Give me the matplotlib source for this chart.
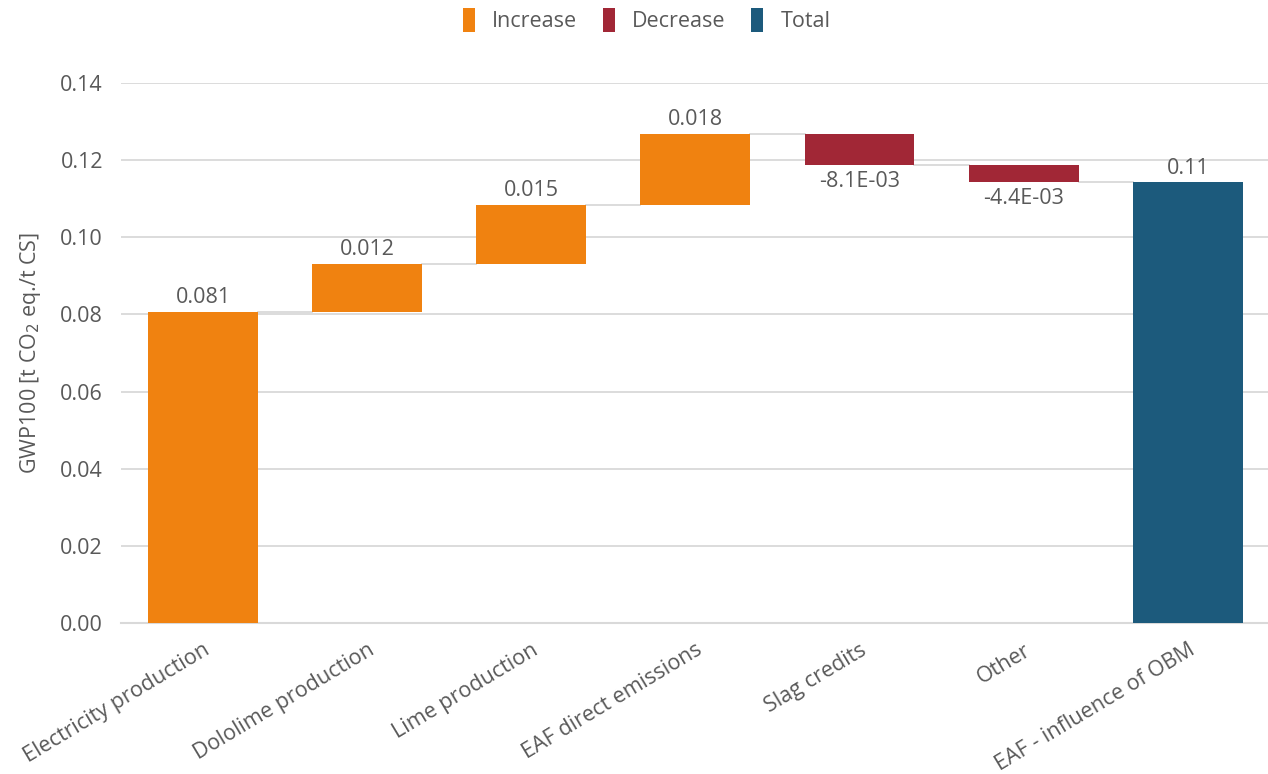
import matplotlib
matplotlib.use("Agg")
import matplotlib.pyplot as plt
from matplotlib.patches import Patch

plt.rcParams['font.family'] = ['Open Sans', 'DejaVu Sans']

categories = ["Electricity production", "Dololime production", "Lime production",
              "EAF direct emissions", "Slag credits", "Other",
              "EAF - influence of OBM"]
changes = [0.0806, 0.0124, 0.0153, 0.0184, -0.0081, -0.0044]
legend_labels = ["Increase", "Decrease", "Total"]
yticks = [0.00, 0.02, 0.04, 0.06, 0.08, 0.10, 0.12, 0.14]

C_INC = "#F08210"
C_DEC = "#A12736"
C_TOT = "#1C5A7C"
TXT = "#595959"
GRID = "#D9D9D9"
FS = 15.5


def fmt(v):
    if v < 0:
        return "{:.1E}".format(v)
    return "{:.2g}".format(v)


fig = plt.figure(figsize=(12.68, 7.74), dpi=100)
ax = fig.add_axes([0.0954, 0.195, 0.906, 0.698])

width = 0.67
running = 0.0
ends = []
for i, d in enumerate(changes):
    lo, hi = sorted([running, running + d])
    color = C_INC if d >= 0 else C_DEC
    ax.bar(i, hi - lo, bottom=lo, width=width, color=color, zorder=3)
    if d >= 0:
        ax.text(i, hi + 0.0010, fmt(d), ha="center", va="bottom",
                fontsize=FS, color=TXT)
    else:
        ax.text(i, lo - 0.0014, fmt(d), ha="center", va="top",
                fontsize=FS, color=TXT)
    running += d
    ends.append(running)

total = running
ti = len(changes)
ax.bar(ti, total, width=width, color=C_TOT, zorder=3)
ax.text(ti, total + 0.0010, fmt(total), ha="center", va="bottom",
        fontsize=FS, color=TXT)

# connectors between consecutive bars
for i, level in enumerate(ends):
    ax.plot([i + width / 2, i + 1 - width / 2], [level, level],
            color=GRID, lw=1.3, zorder=2)

ax.set_xlim(-0.5, len(categories) - 0.5)
ax.set_ylim(0, 0.14)
ax.set_yticks(yticks)
ax.set_yticklabels(["{:.2f}".format(t) for t in yticks])
ax.yaxis.grid(True, color=GRID, lw=1.3, zorder=0)
ax.set_axisbelow(True)

ax.set_xticks(range(len(categories)))
ax.set_xticklabels(categories, rotation=31, ha="right", rotation_mode="anchor")

for s in ["top", "right", "left"]:
    ax.spines[s].set_visible(False)
ax.spines["bottom"].set_color(GRID)
ax.spines["bottom"].set_linewidth(1.5)
ax.tick_params(axis="both", length=0, labelsize=FS, labelcolor=TXT)
ax.tick_params(axis="y", pad=13)
ax.tick_params(axis="x", pad=12)

ax.set_ylabel("GWP100 [t CO$_2$ eq./t CS]", fontsize=FS, color=TXT, labelpad=12)

handles = [Patch(facecolor=c) for c in (C_INC, C_DEC, C_TOT)]
fig.legend(handles, legend_labels, loc="center", bbox_to_anchor=(0.51, 0.974),
           ncol=3, frameon=False, fontsize=FS, handlelength=0.55,
           handleheight=1.3, handletextpad=0.8, columnspacing=1.2,
           labelcolor=TXT)

fig.savefig("out.png", dpi=100, facecolor="white")
